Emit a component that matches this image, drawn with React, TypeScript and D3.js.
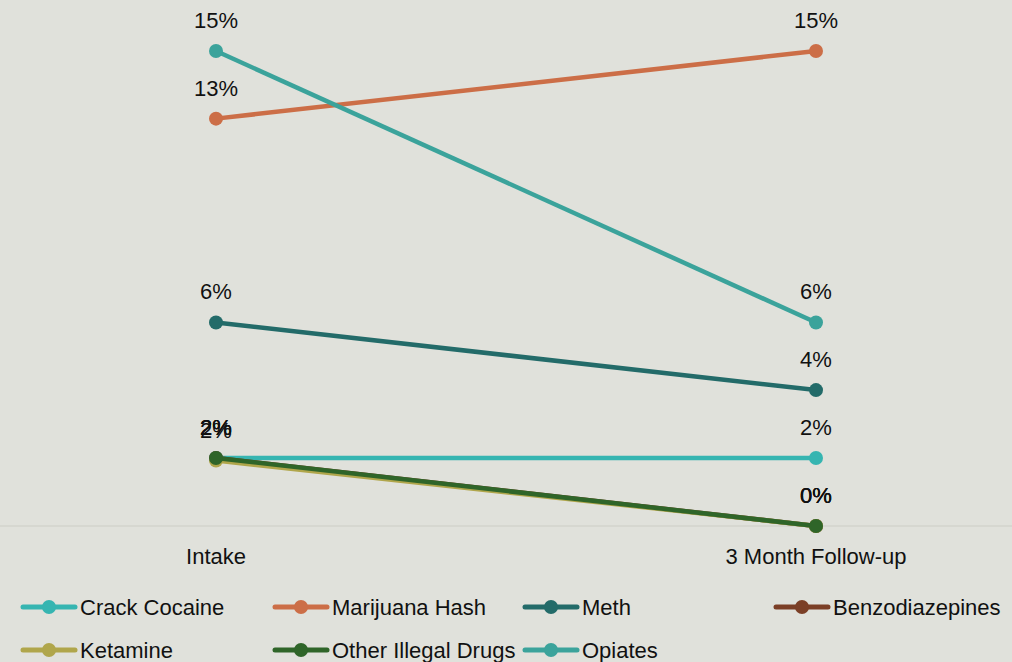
import React from "react";
import * as d3 from "d3";

const categories = ["Intake", "3 Month Follow-up"];
const seriesNames = ["Crack Cocaine", "Marijuana Hash", "Meth", "Benzodiazepines", "Ketamine", "Other Illegal Drugs", "Opiates"];
const crackCocaine = [2.13, 2.13];
const marijuanaHash = [12.77, 14.89];
const meth = [6.38, 4.26];
const benzodiazepines = [2.13, 0];
const ketamine = [2.05, 0];
const otherIllegalDrugs = [2.13, 0];
const opiates = [14.89, 6.38];
const labelsText = [
  ["2%", "2%"],
  ["13%", "15%"],
  ["6%", "4%"],
  ["2%", "0%"],
  ["2%", "0%"],
  ["2%", "0%"],
  ["15%", "6%"],
];
const colors = ["#36b5b1", "#cc6e47", "#236b69", "#7b3f26", "#b0a64b", "#2f6529", "#3ba39b"];

const W = 1012;
const H = 662;
const FONT = "'Liberation Sans', Arial, sans-serif";
const FS = 22;

export default function App() {
  const allSeries = [crackCocaine, marijuanaHash, meth, benzodiazepines, ketamine, otherIllegalDrugs, opiates];
  const x = d3.scalePoint<string>().domain(categories).range([216, 816]);
  const y = d3.scaleLinear().domain([0, 14.89]).range([526, 51]);
  const line = d3
    .line<number>()
    .x((_, i) => x(categories[i]) as number)
    .y((d) => y(d));

  const legendCols = [20, 272, 522, 773];
  const legendRows = [607, 650];

  return (
    <div style={{ position: "absolute", left: 0, top: 0 }}>
      <svg width={W} height={H} style={{ display: "block", background: "#e0e1db" }}>
        <rect x={0} y={0} width={W} height={H} fill="#e0e1db" />
        <line x1={0} x2={W} y1={y(0)} y2={y(0)} stroke="#d3d3cd" strokeWidth={1.5} />
        {categories.map((c) => (
          <text key={c} x={x(c)} y={564} textAnchor="middle" fontFamily={FONT} fontSize={FS} fill="#111">
            {c}
          </text>
        ))}
        {allSeries.map((s, si) => (
          <g key={seriesNames[si]}>
            <path d={line(s) || ""} fill="none" stroke={colors[si]} strokeWidth={4.5} />
            {s.map((v, i) => (
              <circle key={i} cx={x(categories[i])} cy={y(v)} r={7} fill={colors[si]} />
            ))}
          </g>
        ))}
        {allSeries.map((s, si) =>
          s.map((v, i) => (
            <text
              key={`${si}-${i}`}
              x={x(categories[i])}
              y={y(v) - 23}
              textAnchor="middle"
              fontFamily={FONT}
              fontSize={FS}
              fill="#111"
            >
              {labelsText[si][i]}
            </text>
          ))
        )}
        {seriesNames.map((n, i) => {
          const lx = legendCols[i % 4];
          const ly = legendRows[Math.floor(i / 4)];
          return (
            <g key={n}>
              <line x1={lx + 3} x2={lx + 55} y1={ly} y2={ly} stroke={colors[i]} strokeWidth={5} strokeLinecap="round" />
              <circle cx={lx + 29} cy={ly} r={7} fill={colors[i]} />
              <text x={lx + 60} y={ly + 8} fontFamily={FONT} fontSize={FS} fill="#111">
                {n}
              </text>
            </g>
          );
        })}
      </svg>
    </div>
  );
}
